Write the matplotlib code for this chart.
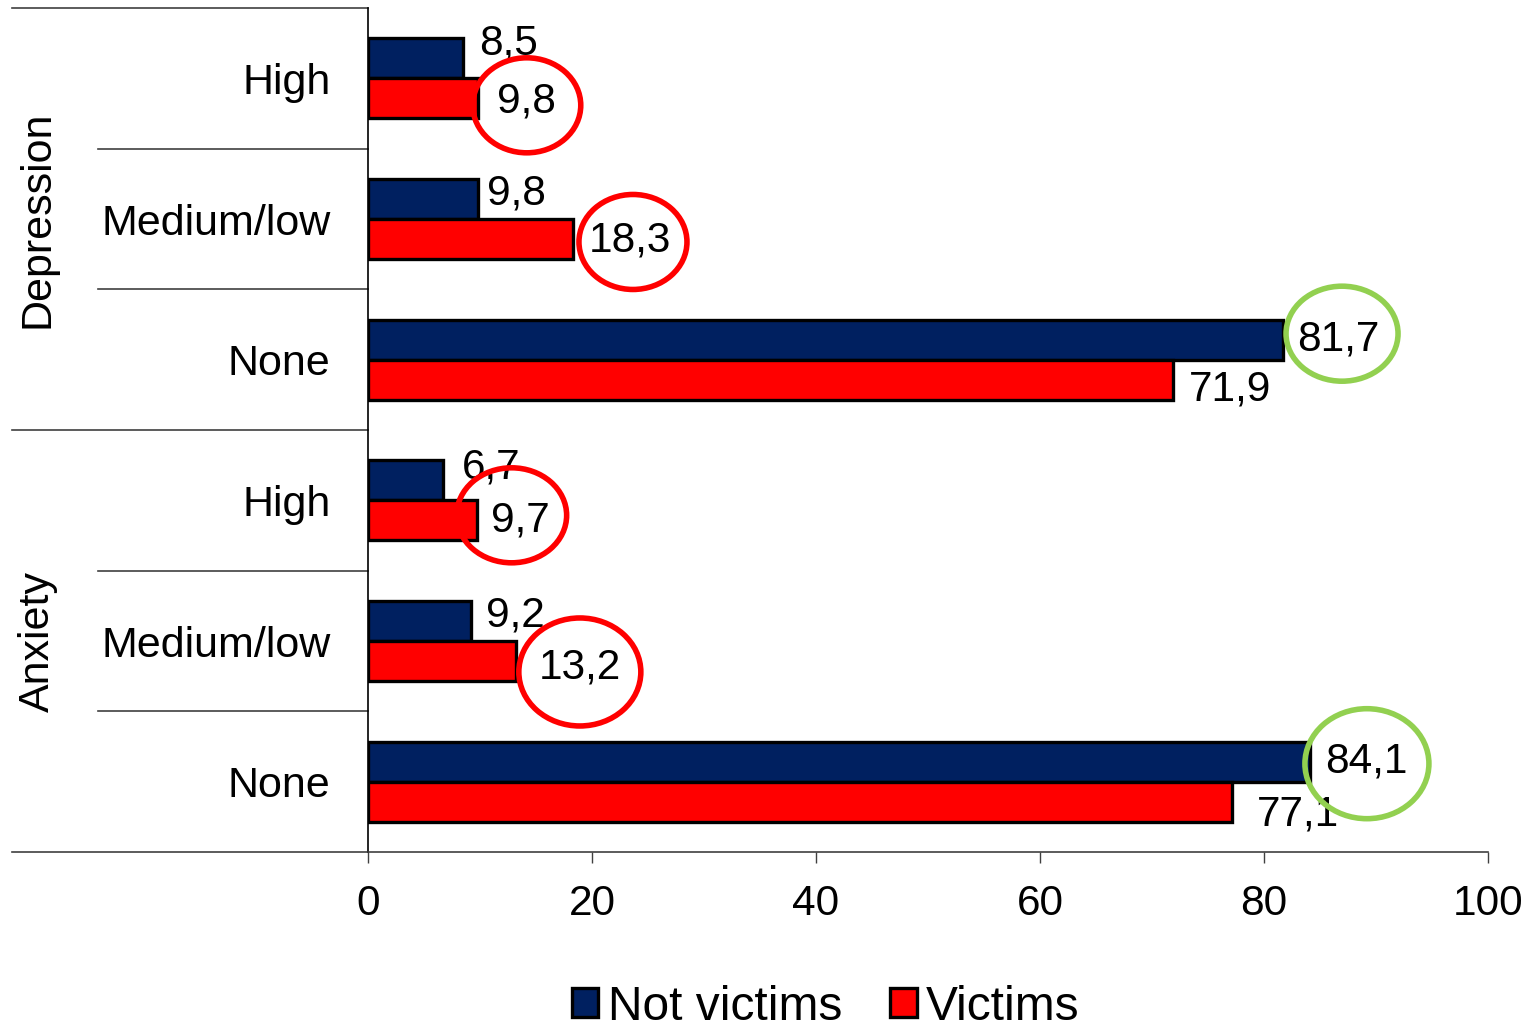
import matplotlib.pyplot as plt
from matplotlib.patches import Ellipse

plt.rcParams['font.family'] = ['Liberation Sans', 'DejaVu Sans']

# data
categories = ['High', 'Medium/low', 'None', 'High', 'Medium/low', 'None']
groups = ['Depression', 'Anxiety']
not_victims = [8.5, 9.8, 81.7, 6.7, 9.2, 84.1]
victims = [9.8, 18.3, 71.9, 9.7, 13.2, 77.1]
xticks = [0, 20, 40, 60, 80, 100]

navy = '#002060'
red = '#FF0000'
green = '#92D050'
fs = 31

W, H = 1533, 1028
fig = plt.figure(figsize=(W / 100, H / 100), dpi=100)
left, right, bottom, top = 368 / W, 1488 / W, 1 - 852 / H, 1 - 8 / H
ax = fig.add_axes([left, bottom, right - left, top - bottom])

n = len(categories)
bh = 0.284
ypos = list(range(n))
ax.barh([y - bh / 2 for y in ypos], not_victims, height=bh, color=navy,
        edgecolor='black', linewidth=2.4, label='Not victims', zorder=3)
ax.barh([y + bh / 2 for y in ypos], victims, height=bh, color=red,
        edgecolor='black', linewidth=2.4, label='Victims', zorder=3)

ax.set_xlim(0, 100)
ax.set_ylim(n - 0.5, -0.5)

# pixels per data unit
px_x = (right - left) * W / 100
px_y = (top - bottom) * H / n

# value labels: (dx px from bar end, dy px from bar centre, positive = down)
nv_off = [(16, -15), (9, -6), (14, 0), (19, -13), (15, -6), (15, 0)]
v_off = [(19, 3), (16, 2), (16, 10), (14, 0), (23, 7), (25, 13)]
for i in range(n):
    for vals, offs, sgn in ((not_victims, nv_off, -1), (victims, v_off, 1)):
        v = vals[i]
        dx, dy = offs[i]
        ax.annotate(f'{v:.1f}'.replace('.', ','), (v, i + sgn * bh / 2),
                    xytext=(dx, -dy), textcoords='offset pixels',
                    ha='left', va='center', fontsize=30.5, zorder=5)

# highlight ellipses: (row, series values, colour, centre dx px, dy px, w px, h px)
highlights = [
    (0, victims, red, 49, 7, 108, 95),
    (1, victims, red, 60, 3, 108, 95),
    (3, victims, red, 35, -5, 110, 95),
    (4, victims, red, 64, 11, 122, 108),
    (2, not_victims, green, 59, -6, 112, 95),
    (5, not_victims, green, 57, 2, 124, 110),
]
for row, vals, col, dx, dy, w, h in highlights:
    sgn = -1 if vals is not_victims else 1
    cx = vals[row] + dx / px_x
    cy = row + sgn * bh / 2 + dy / px_y
    ax.add_patch(Ellipse((cx, cy), w / px_x, h / px_y, fill=False,
                         edgecolor=col, linewidth=4, zorder=6, clip_on=False))

# axes styling
for s in ('top', 'right'):
    ax.spines[s].set_visible(False)
ax.spines['left'].set_color('black')
ax.spines['left'].set_linewidth(1.2)
ax.spines['bottom'].set_color('#404040')
ax.spines['bottom'].set_linewidth(1.2)
ax.set_xticks(xticks)
ax.set_xticklabels([str(t) for t in xticks], fontsize=30.5)
ax.tick_params(axis='x', length=8, width=1, color='#404040', pad=15)
ax.set_yticks([i + 0.5 for i in range(-1, n)])
ax.set_yticklabels([])
ax.tick_params(axis='y', which='major', length=0)
ax.set_yticks(ypos, minor=True)
ax.set_yticklabels(categories, minor=True, fontsize=fs)
ax.tick_params(axis='y', which='minor', length=0, pad=27)

# separator lines to the left of the axes
trans = ax.get_yaxis_transform()
x_inner = (98 - 368) / (1488 - 368)
x_outer = (12 - 368) / (1488 - 368)
for b in range(n + 1):
    yb = b - 0.5
    x0 = x_outer if b % 3 == 0 else x_inner
    ax.plot([x0, 0], [yb, yb], transform=trans, color='#404040', lw=1.2,
            clip_on=False, zorder=1)

# group labels
for g, name in enumerate(groups):
    yc = 1 + 3 * g
    yf = ax.transData.transform((0, yc))[1] / H
    fig.text(38 / W, yf, name, fontsize=fs, rotation=90,
             ha='center', va='center')

fig.legend(loc='center', bbox_to_anchor=(826 / W, 1 - 1007 / H), ncol=2,
           frameon=False, fontsize=34.5, handlelength=0.55, handleheight=0.55,
           handletextpad=0.2, columnspacing=1.0)

fig.savefig('out.png', dpi=100)
